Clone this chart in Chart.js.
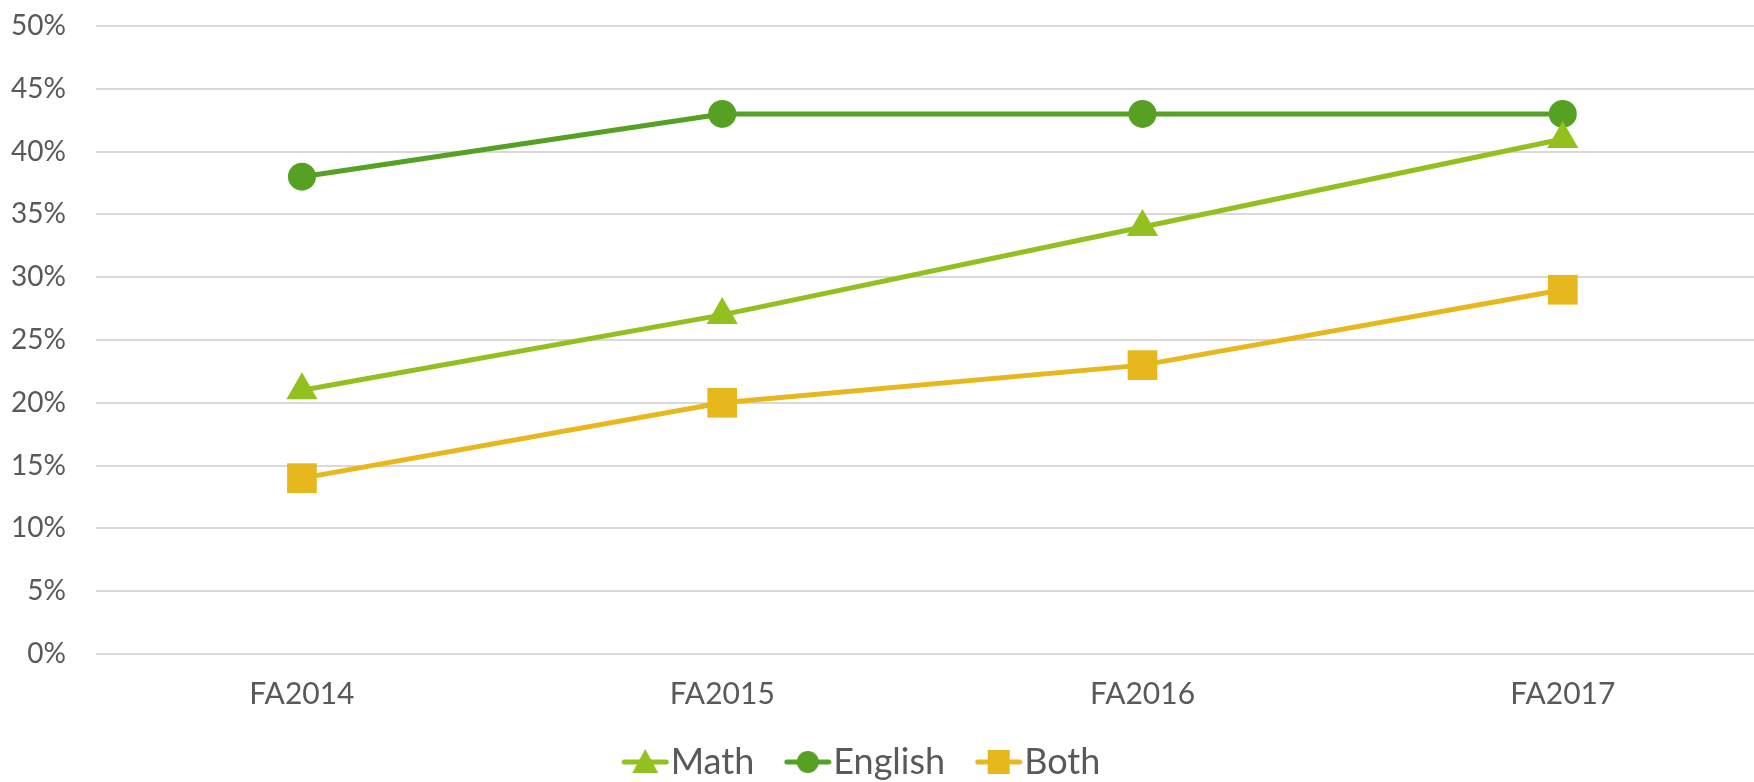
<!DOCTYPE html>
<html>
<head>
<meta charset="utf-8">
<script src="https://cdn.jsdelivr.net/npm/chart.js@4"></script>
<style>
    html, body { margin: 0; padding: 0; background: #ffffff; overflow: hidden; }
    #wrap { position: relative; width: 1754px; height: 782px; }
</style>
</head>
<body>
<div id="wrap"><canvas id="rate-chart"></canvas></div>
<script>
// Chart data
const terms = ['FA2014', 'FA2015', 'FA2016', 'FA2017'];
const mathRates = [21, 27, 34, 41];
const englishRates = [38, 43, 43, 43];
const bothRates = [14, 20, 23, 29];
const yTicks = [0, 5, 10, 15, 20, 25, 30, 35, 40, 45, 50];

const textColor = '#595959';
const gridColor = '#d9d9d9';
const fontFamily = 'Lato, "DejaVu Sans", sans-serif';

/**
 * Build a "line with marker" picture for the legend.
 * It is wider than the legend box, so the marker sits close to its text
 * and there is room between the items.
 */
function legendIcon(color, style) {
    const c = document.createElement('canvas');
    c.width = 90;
    c.height = 34;
    const ctx = c.getContext('2d');
    const cx = 65;
    ctx.strokeStyle = color;
    ctx.fillStyle = color;
    ctx.lineWidth = 5;
    ctx.lineCap = 'round';
    ctx.beginPath();
    ctx.moveTo(44, 17);
    ctx.lineTo(86, 17);
    ctx.stroke();
    ctx.beginPath();
    if (style === 'circle') {
        ctx.arc(cx, 17, 11, 0, Math.PI * 2);
    } else if (style === 'triangle') {
        ctx.moveTo(cx, 4);
        ctx.lineTo(cx + 13, 28);
        ctx.lineTo(cx - 13, 28);
        ctx.closePath();
    } else {
        ctx.rect(cx - 11, 5, 22, 24);
    }
    ctx.fill();
    return c;
}

function pointsOf(values) {
    return values.map((v, i) => ({ x: i, y: v }));
}

// Legend sits a bit left of centre and low, like in the original slide
const legendNudge = {
    id: 'legendNudge',
    afterLayout: function (chart) {
        const lg = chart.legend;
        if (!lg) return;
        lg.left -= 28;
        lg.right -= 28;
        lg.top += 8;
        lg.bottom += 8;
    }
};

const series = [
    { label: 'Math', values: mathRates, color: '#92c01f', style: 'triangle', radius: 18 },
    { label: 'English', values: englishRates, color: '#56a023', style: 'circle', radius: 14 },
    { label: 'Both', values: bothRates, color: '#e6b81e', style: 'rect', radius: 21 }
];

document.addEventListener('DOMContentLoaded', function () {
    const ctx = document.getElementById('rate-chart');

    new Chart(ctx, {
        type: 'line',
        data: {
            datasets: series.map(s => ({
                label: s.label,
                data: pointsOf(s.values),
                borderColor: s.color,
                backgroundColor: s.color,
                borderWidth: 5,
                pointStyle: s.style,
                pointRadius: s.radius,
                pointBorderWidth: 0,
                pointHoverRadius: s.radius,
                tension: 0,
                fill: false,
                legendIcon: legendIcon(s.color, s.style)
            }))
        },
        plugins: [legendNudge],
        options: {
            responsive: true,
            maintainAspectRatio: false,
            animation: false,
            layout: {
                autoPadding: false,
                padding: { top: 26, right: 0, bottom: 0, left: 0 }
            },
            scales: {
                x: {
                    type: 'linear',
                    min: -0.49,
                    max: 3.455,
                    afterBuildTicks: function (scale) {
                        scale.ticks = terms.map((t, i) => ({ value: i }));
                    },
                    afterFit: function (scale) {
                        scale.height = 76;
                        scale.paddingLeft = 0;
                        scale.paddingRight = 0;
                    },
                    grid: { display: false },
                    border: { display: false },
                    ticks: {
                        color: textColor,
                        font: { family: fontFamily, size: 30 },
                        padding: 14,
                        callback: function (value) {
                            return terms[value];
                        }
                    }
                },
                y: {
                    min: 0,
                    max: 50,
                    afterBuildTicks: function (scale) {
                        scale.ticks = yTicks.map(v => ({ value: v }));
                    },
                    afterFit: function (scale) {
                        scale.width = 96;
                        scale.paddingTop = 0;
                        scale.paddingBottom = 0;
                    },
                    grid: { color: gridColor, lineWidth: 2, drawTicks: false },
                    border: { display: false },
                    ticks: {
                        color: textColor,
                        font: { family: fontFamily, size: 28 },
                        padding: 30,
                        callback: function (value) {
                            return value + '%';
                        }
                    }
                }
            },
            plugins: {
                legend: {
                    position: 'bottom',
                    labels: {
                        color: textColor,
                        font: { family: fontFamily, size: 36 },
                        usePointStyle: true,
                        pointStyleWidth: 55,
                        padding: 6,
                        generateLabels: function (chart) {
                            return chart.data.datasets.map((ds, i) => ({
                                text: ds.label,
                                fillStyle: ds.borderColor,
                                strokeStyle: ds.borderColor,
                                fontColor: textColor,
                                lineWidth: 0,
                                pointStyle: ds.legendIcon,
                                hidden: !chart.isDatasetVisible(i),
                                datasetIndex: i
                            }));
                        }
                    }
                },
                tooltip: { enabled: false }
            }
        }
    });
});
</script>
</body>
</html>
